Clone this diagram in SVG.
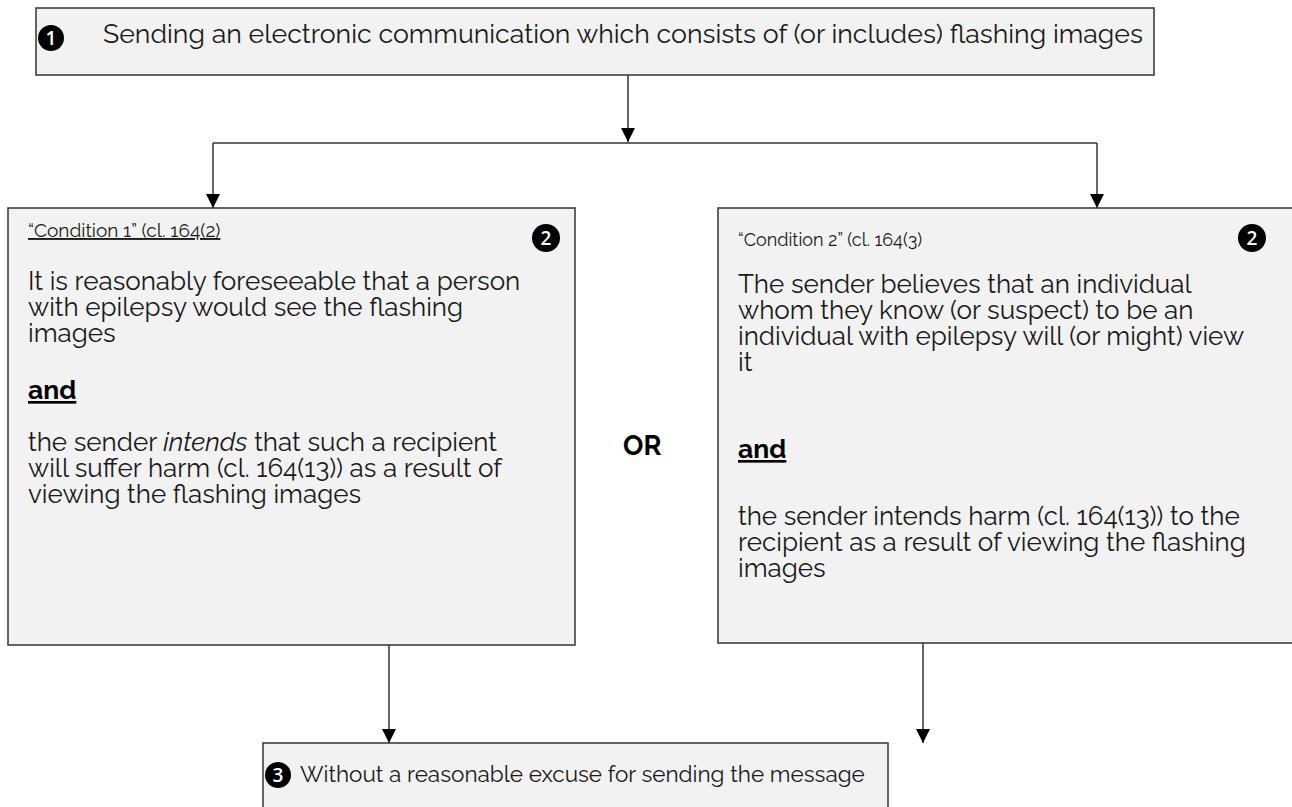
<svg xmlns="http://www.w3.org/2000/svg" width="1292" height="807" viewBox="0 0 1292 807">
<defs>
<marker id="arr" markerWidth="14" markerHeight="14" refX="14" refY="7" orient="auto" markerUnits="userSpaceOnUse" viewBox="0 0 14 14">
<path d="M0,0 L14,7 L0,14 Z" fill="#000"/>
</marker>
<style>
.box{fill:#f2f2f2;stroke:#333;stroke-width:1.5}
.t{font-family:"Raleway","Open Sans","Liberation Sans",sans-serif;font-size:26px;fill:#1a1a1a}
.h{font-family:"Raleway","Open Sans","Liberation Sans",sans-serif;font-size:18px;fill:#1a1a1a}
.b{font-family:"Raleway","Open Sans","Liberation Sans",sans-serif;font-weight:bold;font-size:26.5px;fill:#000}
.num{font-family:"Open Sans","Liberation Sans",sans-serif;font-size:19px;font-weight:600;fill:#fff;text-anchor:middle}
.line{stroke:#333;stroke-width:1.5;fill:none}
</style>
</defs>
<rect width="1292" height="807" fill="#fff"/>
<g id="connectors">
<line class="line" x1="628" y1="75" x2="628" y2="142" marker-end="url(#arr)"/>
<polyline class="line" points="213,143 1097,143"/>
<line class="line" x1="213" y1="143" x2="213" y2="208" marker-end="url(#arr)"/>
<line class="line" x1="1097" y1="143" x2="1097" y2="208" marker-end="url(#arr)"/>
<line class="line" x1="389" y1="645" x2="389" y2="743" marker-end="url(#arr)"/>
<line class="line" x1="923" y1="643" x2="923" y2="743" marker-end="url(#arr)"/>
</g>
<g id="node1">
<rect class="box" x="36" y="8" width="1118" height="67"/>
<circle cx="51" cy="38" r="13" fill="#000"/>
<text class="num" x="51" y="45">1</text>
<text class="t" x="103" y="43" style="font-size:26.7px">Sending an electronic communication which consists of (or includes) flashing images</text>
</g>
<g id="node2a">
<rect class="box" x="8" y="208" width="567" height="437"/>
<text class="h" x="28" y="237" style="font-size:19px" text-decoration="underline">“Condition 1” (cl. 164(2)</text>
<circle cx="546" cy="238" r="14" fill="#000"/>
<text class="num" x="546" y="245">2</text>
<text class="t" x="28" y="290">It is reasonably foreseeable that a person</text>
<text class="t" x="28" y="316">with epilepsy would see the flashing</text>
<text class="t" x="28" y="342">images</text>
<text class="b" x="28" y="399" text-decoration="underline">and</text>
<text class="t" x="28" y="451">the sender <tspan font-style="italic">intends</tspan> that such a recipient</text>
<text class="t" x="28" y="477">will suffer harm (cl. 164(13)) as a result of</text>
<text class="t" x="28" y="503">viewing the flashing images</text>
</g>
<g id="or">
<text class="b" x="623" y="455" style="font-size:27px">OR</text>
</g>
<g id="node2b">
<rect class="box" x="718" y="208" width="580" height="435"/>
<text class="h" x="738" y="246">“Condition 2” (cl. 164(3)</text>
<circle cx="1252" cy="238" r="14" fill="#000"/>
<text class="num" x="1252" y="245">2</text>
<text class="t" x="738" y="293">The sender believes that an individual</text>
<text class="t" x="738" y="319">whom they know (or suspect) to be an</text>
<text class="t" x="738" y="345">individual with epilepsy will (or might) view</text>
<text class="t" x="738" y="371">it</text>
<text class="b" x="738" y="458" text-decoration="underline">and</text>
<text class="t" x="738" y="525">the sender intends harm (cl. 164(13)) to the</text>
<text class="t" x="738" y="551">recipient as a result of viewing the flashing</text>
<text class="t" x="738" y="577">images</text>
</g>
<g id="node3">
<rect class="box" x="263" y="743" width="625" height="80"/>
<circle cx="278" cy="775" r="13" fill="#000"/>
<text class="num" x="278" y="782">3</text>
<text class="t" x="300" y="782" style="font-size:22.5px">Without a reasonable excuse for sending the message</text>
</g>
</svg>
